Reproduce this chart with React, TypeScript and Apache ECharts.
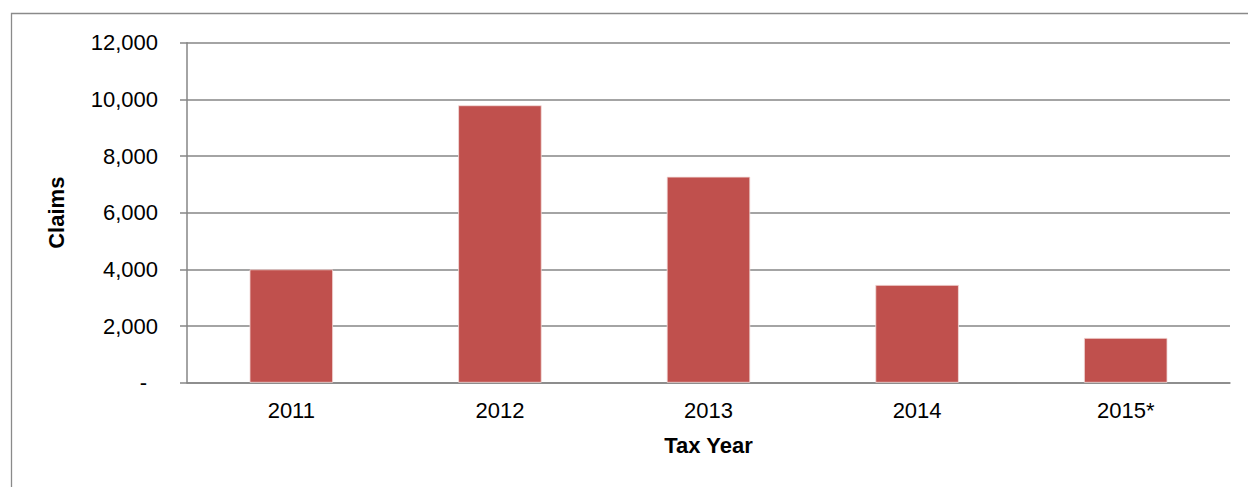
import React, { useEffect, useRef } from "react";
import * as echarts from "echarts";

const categories = ["2011", "2012", "2013", "2014", "2015*"];
const claims = [4000, 9790, 7270, 3450, 1580];
const yTicks = [0, 2000, 4000, 6000, 8000, 10000, 12000];

export default function App() {
  const ref = useRef<HTMLDivElement>(null);
  useEffect(() => {
    if (!ref.current) return;
    const chart = echarts.init(ref.current, null, { renderer: "svg" });
    const font = "Arial, 'Liberation Sans', sans-serif";
    chart.setOption({
      animation: false,
      backgroundColor: "#ffffff",
      textStyle: { fontFamily: font },
      graphic: [
        {
          type: "rect",
          shape: { x: 11.5, y: 13.5, width: 1400, height: 700 },
          style: { fill: "none", stroke: "#8a8a8a", lineWidth: 1.3 },
          silent: true,
        },
      ],
      grid: { left: 187, right: 18, top: 42.7, bottom: 104.3 },
      xAxis: {
        type: "category",
        data: categories,
        axisLine: { show: true, lineStyle: { color: "#868686", width: 1.5 } },
        axisTick: { show: false },
        axisLabel: { color: "#000", fontSize: 22, fontFamily: font, margin: 17 },
        name: "Tax Year",
        nameLocation: "middle",
        nameGap: 52,
        nameTextStyle: { color: "#000", fontSize: 22, fontWeight: "bold", fontFamily: font },
      },
      yAxis: {
        type: "value",
        min: yTicks[0],
        max: yTicks[yTicks.length - 1],
        interval: yTicks[1] - yTicks[0],
        axisLine: { show: true, lineStyle: { color: "#868686", width: 1.5 } },
        axisTick: { show: true, length: 7, lineStyle: { color: "#868686", width: 1.5 } },
        splitLine: { show: true, lineStyle: { color: "#868686", width: 1.5 } },
        axisLabel: {
          color: "#000",
          fontSize: 22,
          fontFamily: font,
          margin: 29,
          formatter: (v: number) =>
            v === 0 ? "{z|-}" : v.toLocaleString("en-US"),
          rich: {
            z: { color: "#000", fontSize: 22, fontFamily: font, padding: [0, 11, 0, 0] },
          },
        },
        name: "Claims",
        nameLocation: "middle",
        nameGap: 120,
        nameTextStyle: { color: "#000", fontSize: 22, fontWeight: "bold", fontFamily: font },
      },
      series: [
        {
          type: "bar",
          data: claims,
          barWidth: "40%",
          itemStyle: { color: "#C0504D", borderColor: "#f2dcdb", borderWidth: 0.8 },
        },
      ],
    });
    return () => chart.dispose();
  }, []);
  return (
    <div
      ref={ref}
      style={{ position: "absolute", left: 0, top: 0, width: 1248, height: 487 }}
    />
  );
}
